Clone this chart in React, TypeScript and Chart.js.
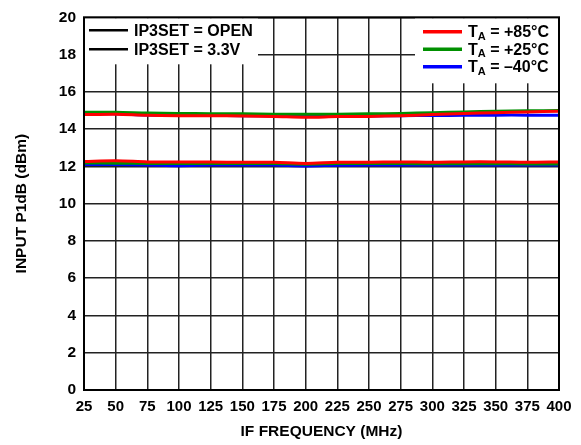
import React, { useEffect, useRef } from 'react';
import { Chart, registerables } from 'chart.js';

Chart.register(...registerables);

// ---- data ----
const freqMHz = [25, 50, 75, 100, 125, 150, 175, 200, 225, 250, 275, 300, 325, 350, 375, 400];
const xTicks = [25, 50, 75, 100, 125, 150, 175, 200, 225, 250, 275, 300, 325, 350, 375, 400];
const yTicks = [0, 2, 4, 6, 8, 10, 12, 14, 16, 18, 20];

// upper group
const hiP85 = [14.78, 14.8, 14.74, 14.72, 14.72, 14.7, 14.68, 14.64, 14.67, 14.68, 14.72, 14.78, 14.84, 14.88, 14.92, 14.96];
const hiP25 = [14.9, 14.9, 14.86, 14.84, 14.83, 14.82, 14.8, 14.8, 14.8, 14.82, 14.84, 14.88, 14.92, 14.96, 14.98, 15.0];
const hiM40 = [14.84, 14.82, 14.76, 14.74, 14.73, 14.72, 14.71, 14.7, 14.7, 14.71, 14.72, 14.73, 14.74, 14.75, 14.75, 14.74];
// lower group
const loP85 = [12.26, 12.3, 12.24, 12.24, 12.23, 12.22, 12.22, 12.16, 12.22, 12.22, 12.24, 12.22, 12.24, 12.24, 12.22, 12.24];
const loP25 = [12.18, 12.17, 12.16, 12.15, 12.15, 12.15, 12.15, 12.12, 12.15, 12.15, 12.15, 12.14, 12.14, 12.14, 12.13, 12.13];
const loM40 = [12.1, 12.1, 12.08, 12.04, 12.07, 12.07, 12.07, 12.02, 12.06, 12.07, 12.08, 12.08, 12.08, 12.08, 12.08, 12.08];

const setLabels = ['IP3SET = OPEN', 'IP3SET = 3.3V'];
const tempLabels = ['= +85°C', '= +25°C', '= \u201340°C'];

const RED = '#ff0000';
const GREEN = '#009000';
const BLUE = '#0000ff';
const tempColors = [RED, GREEN, BLUE];

const FONT = '"Liberation Sans", Arial, Helvetica, sans-serif';

const toPts = (ys: number[]) => freqMHz.map((x, i) => ({ x, y: ys[i] }));

const legendPlugin = {
  id: 'customLegend',
  beforeDatasetsDraw(chart: any) {
    const { ctx, chartArea: a } = chart;
    ctx.save();
    // white legend boxes hiding the grid
    ctx.fillStyle = '#ffffff';
    ctx.fillRect(a.left + 1, a.top + 1, 173, 46);
    ctx.fillRect(a.right - 144, a.top + 1, 143, 65);

    // left legend
    ctx.strokeStyle = '#000';
    ctx.lineWidth = 2.5;
    ctx.fillStyle = '#000';
    ctx.font = `bold 16px ${FONT}`;
    ctx.textBaseline = 'middle';
    ctx.textAlign = 'left';
    const lys = [a.top + 13, a.top + 32];
    setLabels.forEach((t, i) => {
      ctx.beginPath();
      ctx.moveTo(a.left + 5, lys[i]);
      ctx.lineTo(a.left + 44, lys[i]);
      ctx.stroke();
      ctx.fillText(t, a.left + 50, lys[i] + 1);
    });

    // right legend
    const rys = [a.top + 14.5, a.top + 32, a.top + 49.5];
    tempLabels.forEach((t, i) => {
      ctx.strokeStyle = tempColors[i];
      ctx.lineWidth = 3.5;
      ctx.beginPath();
      ctx.moveTo(a.right - 136, rys[i]);
      ctx.lineTo(a.right - 97, rys[i]);
      ctx.stroke();
      let x = a.right - 91;
      ctx.fillStyle = '#000';
      ctx.font = `bold 16px ${FONT}`;
      ctx.fillText('T', x, rys[i] + 1);
      x += ctx.measureText('T').width;
      ctx.font = `bold 11px ${FONT}`;
      ctx.fillText('A', x, rys[i] + 5);
      x += ctx.measureText('A').width;
      ctx.font = `bold 16px ${FONT}`;
      ctx.fillText(' ' + t, x, rys[i] + 1);
    });
    ctx.restore();
  },
  afterDraw(chart: any) {
    const { ctx, chartArea: a } = chart;
    ctx.save();
    ctx.strokeStyle = '#000';
    ctx.lineWidth = 2;
    ctx.strokeRect(a.left, a.top, a.right - a.left, a.bottom - a.top);
    ctx.restore();
  },
};

export default function App() {
  const ref = useRef<HTMLCanvasElement | null>(null);

  useEffect(() => {
    if (!ref.current) return;
    const mk = (label: string, data: number[], color: string) => ({
      label,
      data: toPts(data),
      borderColor: color,
      backgroundColor: color,
      borderWidth: 3,
      pointRadius: 0,
      tension: 0.3,
      fill: false,
    });
    const chart = new Chart(ref.current, {
      type: 'line',
      data: {
        datasets: [
          mk('OPEN +85', hiP85, RED),
          mk('3.3V +85', loP85, RED),
          mk('OPEN +25', hiP25, GREEN),
          mk('3.3V +25', loP25, GREEN),
          mk('OPEN -40', hiM40, BLUE),
          mk('3.3V -40', loM40, BLUE),
        ],
      },
      options: {
        animation: false,
        responsive: true,
        maintainAspectRatio: false,
        layout: { padding: { top: 10, right: 22, left: 0, bottom: 0 } },
        plugins: { legend: { display: false }, tooltip: { enabled: false } },
        scales: {
          x: {
            type: 'linear',
            min: 25,
            max: 400,
            afterBuildTicks: (s: any) => {
              s.ticks = xTicks.map((v) => ({ value: v }));
            },
            afterFit: (s: any) => {
              s.height = 55;
            },
            ticks: {
              color: '#000',
              font: { family: FONT, size: 15, weight: 'bold' },
              padding: 8,
              maxRotation: 0,
              autoSkip: false,
            },
            grid: { color: '#222', lineWidth: 1.5, drawTicks: false },
            border: { display: false },
            title: {
              display: true,
              text: 'IF FREQUENCY (MHz)',
              color: '#000',
              font: { family: FONT, size: 15.5, weight: 'bold' },
              padding: { top: 0, bottom: 4 },
            },
          },
          y: {
            min: 0,
            max: 20,
            afterBuildTicks: (s: any) => {
              s.ticks = yTicks.map((v) => ({ value: v }));
            },
            afterFit: (s: any) => {
              s.width = 84;
            },
            ticks: {
              color: '#000',
              font: { family: FONT, size: 15.5, weight: 'bold' },
              padding: 8,
            },
            grid: { color: '#222', lineWidth: 1.5, drawTicks: false },
            border: { display: false },
            title: {
              display: true,
              text: 'INPUT P1dB (dBm)',
              color: '#000',
              font: { family: FONT, size: 15.5, weight: 'bold' },
              padding: { top: 12, bottom: 0 },
            },
          },
        },
      },
      plugins: [legendPlugin],
    } as any);
    return () => chart.destroy();
  }, []);

  return (
    <div style={{ position: 'absolute', left: 0, top: 0, width: 581, height: 445, background: '#fff' }}>
      <canvas ref={ref} />
    </div>
  );
}
